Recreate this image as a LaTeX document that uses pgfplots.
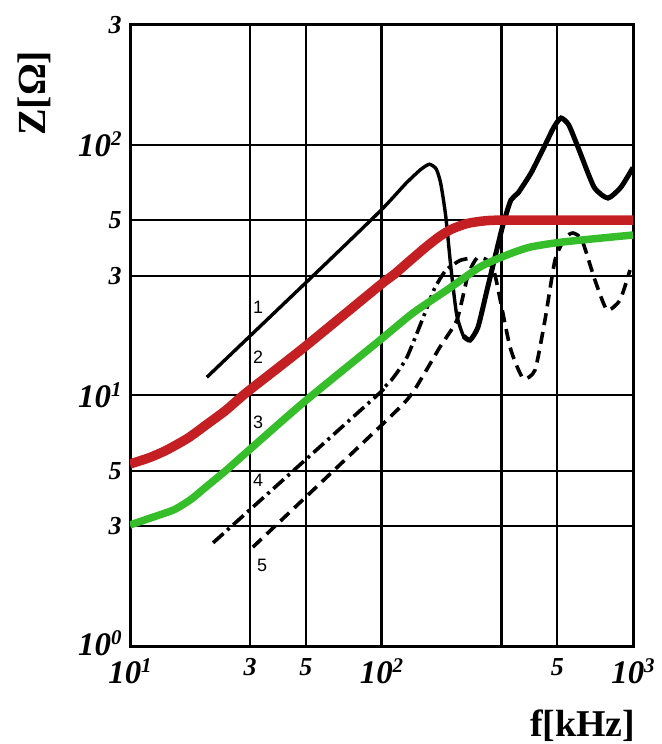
\documentclass[border=0pt]{standalone}
\usepackage{fontspec}
\setmainfont{Liberation Serif}
\newfontfamily\lsans{Liberation Sans}
\usepackage{pgfplots}
\pgfplotsset{compat=1.18}
\definecolor{cred}{HTML}{C42024}
\definecolor{cgreen}{HTML}{36BE2A}
\newcommand{\tl}[1]{{\fontsize{26}{26}\selectfont\bfseries\itshape #1}}
\newcommand{\pw}[1]{{\fontsize{33}{33}\selectfont\bfseries\itshape 10\raisebox{11bp}{\fontsize{21}{21}\selectfont #1}}}
\newcommand{\cl}[1]{{\lsans\fontsize{18}{18}\selectfont #1}}
\begin{document}
\begin{tikzpicture}
\useasboundingbox (-130bp,-98bp) rectangle (532bp,646bp);
\begin{axis}[
  at={(0,0)}, anchor=south west,
  scale only axis, width=503bp, height=621bp,
  xmode=log, ymode=log,
  xmin=10, xmax=1000, ymin=1, ymax=300,
  xtick={10,30,50,100,300,500,1000},
  xticklabels={\pw{1},\tl{3},\tl{5},\pw{2},{},\tl{5},\pw{3}},
  ytick={1,3,5,10,30,50,100,300},
  yticklabels={\raisebox{6bp}{\pw{0}},\tl{3},\tl{5},\pw{1},\tl{3},\tl{5},\pw{2},\tl{3}},
  minor xtick={}, minor ytick={},
  major tick length=0pt, minor tick length=0pt,
  grid=major,
  major grid style={black, line width=2.2bp},
  axis line style={black, line width=3bp},
  xticklabel style={anchor=north, yshift=-9bp},
  yticklabel style={anchor=east, xshift=-5bp},
  xlabel={\fontsize{38}{38}\selectfont\bfseries f[kHz]},
  ylabel={\fontsize{40}{40}\selectfont\bfseries Z[Ω]},
  xlabel style={at={(axis description cs:0.900,-0.128)}, anchor=center},
  ylabel style={at={(axis description cs:-0.190,0.89)}, anchor=center},
]
% curve 1 (thin solid black)
\addplot[black, line width=3.4bp, smooth, tension=0.35] coordinates {
 (20.2,11.8) (60,33.5) (100,55) (125,70) (143,79.5) (155,83.5) (165,80)
 (172,70) (180,52) (189,32) (199,21) (212,17.2) (224.9,16.6)
};
\addplot[black, line width=5bp, smooth, tension=0.35] coordinates {
 (212,17.2) (224.9,16.6) (241.9,18.7) (262.8,26.3) (282.7,35.6) (304,47.8)
 (327,60.1) (349,64.1) (393,77.0) (443,97.8) (485,117.5) (517,127.7) (555,120)
 (604,97.8) (700,67.7) (795,61.2) (896,67.7) (1000,81)
};
% curve 4 (dash-dot)
\addplot[black, line width=3.6bp, dash pattern=on 14bp off 5bp on 3bp off 5bp, smooth, tension=0.35] coordinates {
 (21.4,2.58) (95,9.9) (103,10.8) (111,11.7) (126.3,14.2) (148.9,21.3) (162,26.5) (180,31.5) (205,34.5) (225,35.2)
};
% curve 5 (dashed)
\addplot[black, line width=3.6bp, dash pattern=on 12bp off 7bp, smooth, tension=0.35] coordinates {
 (30.8,2.48) (108.1,8.19) (133.4,10.3) (170.9,15.6) (199.6,20.0) (220.8,30.2)
 (239.7,35.3) (262.8,34.6) (282.7,30.2) (324.3,15.6) (365.2,11.7) (407.6,12.6)
 (446.8,20.0) (489.7,34.6) (536.5,42.4) (577.4,44.4) (627,41.6) (706,28.8)
 (788,21.9) (888,24.0) (972.8,31.6)
};
% curve 2 (red)
\addplot[cred, line width=9.5bp, smooth, tension=0.4] coordinates {
 (10,5.32) (12,5.65) (14,6.05) (17,6.75) (20,7.6) (24,8.7) (29.2,10.3) (48.7,15.4)
 (98.6,27.5) (112,30.3) (130,34.5) (150,39) (170,43) (190,46) (220,48.5)
 (260,49.7) (320,50) (1000,50)
};
% curve 3 (green)
\addplot[cgreen, line width=7.5bp, smooth, tension=0.4] coordinates {
 (10,3.04) (12.5,3.28) (15,3.5) (17.5,3.85) (20,4.3) (24,5.0) (29.2,5.95)
 (48.7,9.32) (98.6,16.6) (133.4,21.3) (182,26.3) (246.4,32.5) (315.5,36.3)
 (389.5,39.0) (527,40.9) (1000,43.6)
};
\node at (axis cs:32.3,22.5) {\cl{1}};
\node at (axis cs:32.3,14.2) {\cl{2}};
\node at (axis cs:32.3,7.83) {\cl{3}};
\node at (axis cs:32.3,4.59) {\cl{4}};
\node at (axis cs:33.5,2.10) {\cl{5}};
\end{axis}
\end{tikzpicture}
\end{document}
